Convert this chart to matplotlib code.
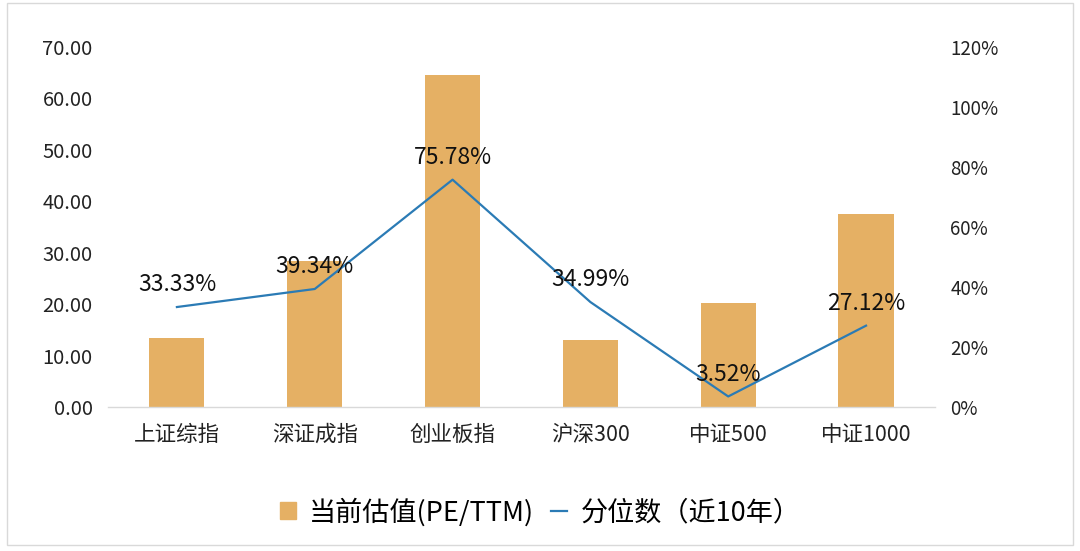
import matplotlib
matplotlib.use("Agg")
import matplotlib.pyplot as plt
from matplotlib.patches import Rectangle
from matplotlib.lines import Line2D
from matplotlib.ticker import FuncFormatter

plt.rcParams['font.family'] = ['Noto Sans CJK SC', 'DejaVu Sans']

categories = ['上证综指', '深证成指', '创业板指', '沪深300', '中证500', '中证1000']
pe_values = [13.4, 28.3, 64.5, 13.0, 20.3, 37.5]
percentiles = [33.33, 39.34, 75.78, 34.99, 3.52, 27.12]
left_ticks = [0, 10, 20, 30, 40, 50, 60, 70]
right_ticks = [0, 20, 40, 60, 80, 100, 120]

bar_color = '#E5B064'
line_color = '#2B7BB5'

fig = plt.figure(figsize=(10.8, 5.51), dpi=100)
fig.patches.append(Rectangle((7/1080, 1-545/551), 1066/1080, 542/551,
                             transform=fig.transFigure, fill=False,
                             edgecolor='#D9D9D9', linewidth=1.0))

ax = fig.add_axes([0.1, 0.2613, 0.7657, 0.6534])
x = list(range(len(categories)))
ax.bar(x, pe_values, width=0.4, color=bar_color, zorder=2)
ax.set_xlim(-0.5, len(categories) - 0.5)
ax.set_ylim(0, 70)
ax.set_yticks(left_ticks)
ax.yaxis.set_major_formatter(FuncFormatter(lambda v, p: f'{v:.2f}'))
ax.set_xticks(x)
ax.set_xticklabels(categories, fontsize=15.5)
ax.tick_params(axis='y', length=0, labelsize=14.5, pad=11, colors='#222222')
ax.tick_params(axis='x', length=0, pad=12, colors='#222222')
for s in ['top', 'right', 'left']:
    ax.spines[s].set_visible(False)
ax.spines['bottom'].set_color('#D9D9D9')
ax.spines['bottom'].set_linewidth(1.0)

ax2 = ax.twinx()
ax2.plot(x, percentiles, color=line_color, linewidth=1.6, zorder=3)
ax2.set_ylim(0, 120)
ax2.set_yticks(right_ticks)
ax2.yaxis.set_major_formatter(FuncFormatter(lambda v, p: f'{v:.0f}%'))
ax2.tick_params(axis='y', length=0, labelsize=13.5, pad=11, colors='#222222')
for s in ['top', 'right', 'left', 'bottom']:
    ax2.spines[s].set_visible(False)

for xi, pv in zip(x, percentiles):
    ax2.annotate(f'{pv:.2f}%', (xi, pv), xytext=(0, 16), textcoords='offset points',
                 ha='center', va='center', fontsize=16.5, color='#111111', zorder=4)

handles = [Rectangle((0, 0), 1, 1, color=bar_color),
           Line2D([0], [0], color=line_color, linewidth=1.6)]
labels = ['当前估值(PE/TTM)', '分位数（近10年）']
fig.legend(handles, labels, loc='center', bbox_to_anchor=(0.5, 1-512/551),
           ncol=2, frameon=False, fontsize=19.5, handlelength=0.6,
           handleheight=0.6, handletextpad=0.5, columnspacing=0.6)

fig.savefig('out.png', dpi=100)
